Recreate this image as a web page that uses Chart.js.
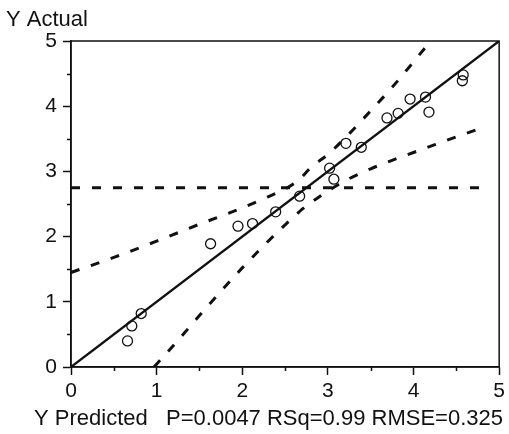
<!DOCTYPE html>
<html>
<head>
<meta charset="utf-8">
<title>Actual by Predicted</title>
<script src="https://cdn.jsdelivr.net/npm/chart.js@4.4.0/dist/chart.umd.min.js"></script>
<style>
    body { margin: 0; background: #fff; }
    canvas { display: block; }
</style>
</head>
<body>
<canvas id="actualByPredicted" width="509" height="434"></canvas>
<script>
// points (predicted on x, actual on y)
var predictedX = [0.66, 0.71, 0.82, 1.63, 1.95, 2.12, 2.39, 2.67, 3.02, 3.07, 3.21, 3.39, 3.69, 3.82, 3.96, 4.14, 4.18, 4.58, 4.57];
var actualY    = [0.40, 0.63, 0.82, 1.89, 2.16, 2.20, 2.38, 2.62, 3.05, 2.88, 3.43, 3.37, 3.82, 3.89, 4.11, 4.14, 3.91, 4.48, 4.39];

// fit line and mean line
var fitX = [0, 5];
var fitY = [0, 5];
var meanX = [0, 4.85];
var meanY = [2.75, 2.75];

// confidence curves
var upperX = [0, 0.5, 1.0, 1.5, 2.0, 2.3, 2.5, 2.6, 2.7, 2.8, 3.0, 3.25, 3.5, 3.75, 4.0, 4.2];
var upperY = [1.45, 1.68, 1.93, 2.19, 2.44, 2.61, 2.73, 2.81, 2.92, 3.06, 3.26, 3.58, 3.93, 4.29, 4.68, 5.0];
var lowerX = [0.97, 1.25, 1.5, 1.75, 2.0, 2.25, 2.5, 2.6, 2.7, 2.8, 2.9, 3.0, 3.25, 3.5, 3.75, 4.0, 4.25, 4.5, 4.85];
var lowerY = [0, 0.41, 0.79, 1.16, 1.52, 1.86, 2.18, 2.30, 2.42, 2.52, 2.61, 2.70, 2.89, 3.04, 3.17, 3.29, 3.41, 3.53, 3.69];

// axis ticks
var majorTicks = [0, 1, 2, 3, 4, 5];
var minorTicks = [0.5, 1.5, 2.5, 3.5, 4.5];

var xTitle = 'Y Predicted';
var statsText = 'P=0.0047 RSq=0.99 RMSE=0.325';
var yTitle = 'Y Actual';

var FONT = '"Liberation Sans", Arial, Helvetica, sans-serif';

function toPoints(xs, ys) {
    var pts = [];
    for (var i = 0; i < xs.length; i++) {
        pts.push({ x: xs[i], y: ys[i] });
    }
    return pts;
}

function dashed(data) {
    return {
        type: 'line',
        data: data,
        borderColor: '#111',
        borderWidth: 3,
        borderDash: [9, 12],
        pointRadius: 0,
        fill: false,
        cubicInterpolationMode: 'monotone'
    };
}

// frame, minor ticks and the text labels
var decorations = {
    id: 'decorations',
    afterDraw: function (chart) {
        var ctx = chart.ctx;
        var area = chart.chartArea;
        var xs = chart.scales.x;
        var ys = chart.scales.y;
        ctx.save();
        ctx.strokeStyle = '#111';
        ctx.lineWidth = 1.5;
        ctx.strokeRect(area.left, area.top, area.right - area.left, area.bottom - area.top);

        ctx.beginPath();
        minorTicks.forEach(function (v) {
            var px = Math.round(xs.getPixelForValue(v)) + 0.5;
            ctx.moveTo(px, area.bottom);
            ctx.lineTo(px, area.bottom + 4);
            var py = Math.round(ys.getPixelForValue(v)) + 0.5;
            ctx.moveTo(area.left, py);
            ctx.lineTo(area.left - 4, py);
        });
        ctx.stroke();

        ctx.fillStyle = '#111';
        ctx.font = '22px ' + FONT;
        ctx.textBaseline = 'alphabetic';
        ctx.textAlign = 'left';
        ctx.fillText(yTitle, 6, 26);
        ctx.fillText(xTitle, 34, 425);
        ctx.textAlign = 'right';
        ctx.fillText(statsText, 503, 425);
        ctx.restore();
    }
};

var axisStyle = {
    type: 'linear',
    min: 0,
    max: 5,
    grid: {
        drawOnChartArea: false,
        tickLength: 8,
        tickColor: '#111',
        tickWidth: 1.5
    },
    border: { display: true, color: '#111', width: 1.5 },
    ticks: {
        stepSize: 1,
        color: '#111',
        font: { size: 21, family: FONT }
    }
};

var ctx = document.getElementById('actualByPredicted').getContext('2d');
var chart = new Chart(ctx, {
    type: 'scatter',
    data: {
        datasets: [
            {
                type: 'line',
                data: toPoints(fitX, fitY),
                borderColor: '#111',
                borderWidth: 2.3,
                pointRadius: 0,
                fill: false
            },
            dashed(toPoints(meanX, meanY)),
            dashed(toPoints(upperX, upperY)),
            dashed(toPoints(lowerX, lowerY)),
            {
                type: 'scatter',
                data: toPoints(predictedX, actualY),
                pointStyle: 'circle',
                pointRadius: 5,
                borderColor: '#111',
                borderWidth: 1.3,
                backgroundColor: 'rgba(0,0,0,0)'
            }
        ]
    },
    options: {
        responsive: false,
        animation: false,
        devicePixelRatio: 1,
        layout: { padding: { top: 41, right: 7, left: 0, bottom: 0 } },
        plugins: {
            legend: { display: false },
            tooltip: { enabled: false }
        },
        scales: {
            x: Object.assign({}, axisStyle, {
                position: 'bottom',
                ticks: Object.assign({}, axisStyle.ticks, { padding: 4, maxRotation: 0 }),
                afterFit: function (scale) { scale.height = 67; }
            }),
            y: Object.assign({}, axisStyle, {
                position: 'left',
                ticks: Object.assign({}, axisStyle.ticks, { padding: 6 }),
                afterFit: function (scale) { scale.width = 71; }
            })
        }
    },
    plugins: [decorations]
});
</script>
</body>
</html>
